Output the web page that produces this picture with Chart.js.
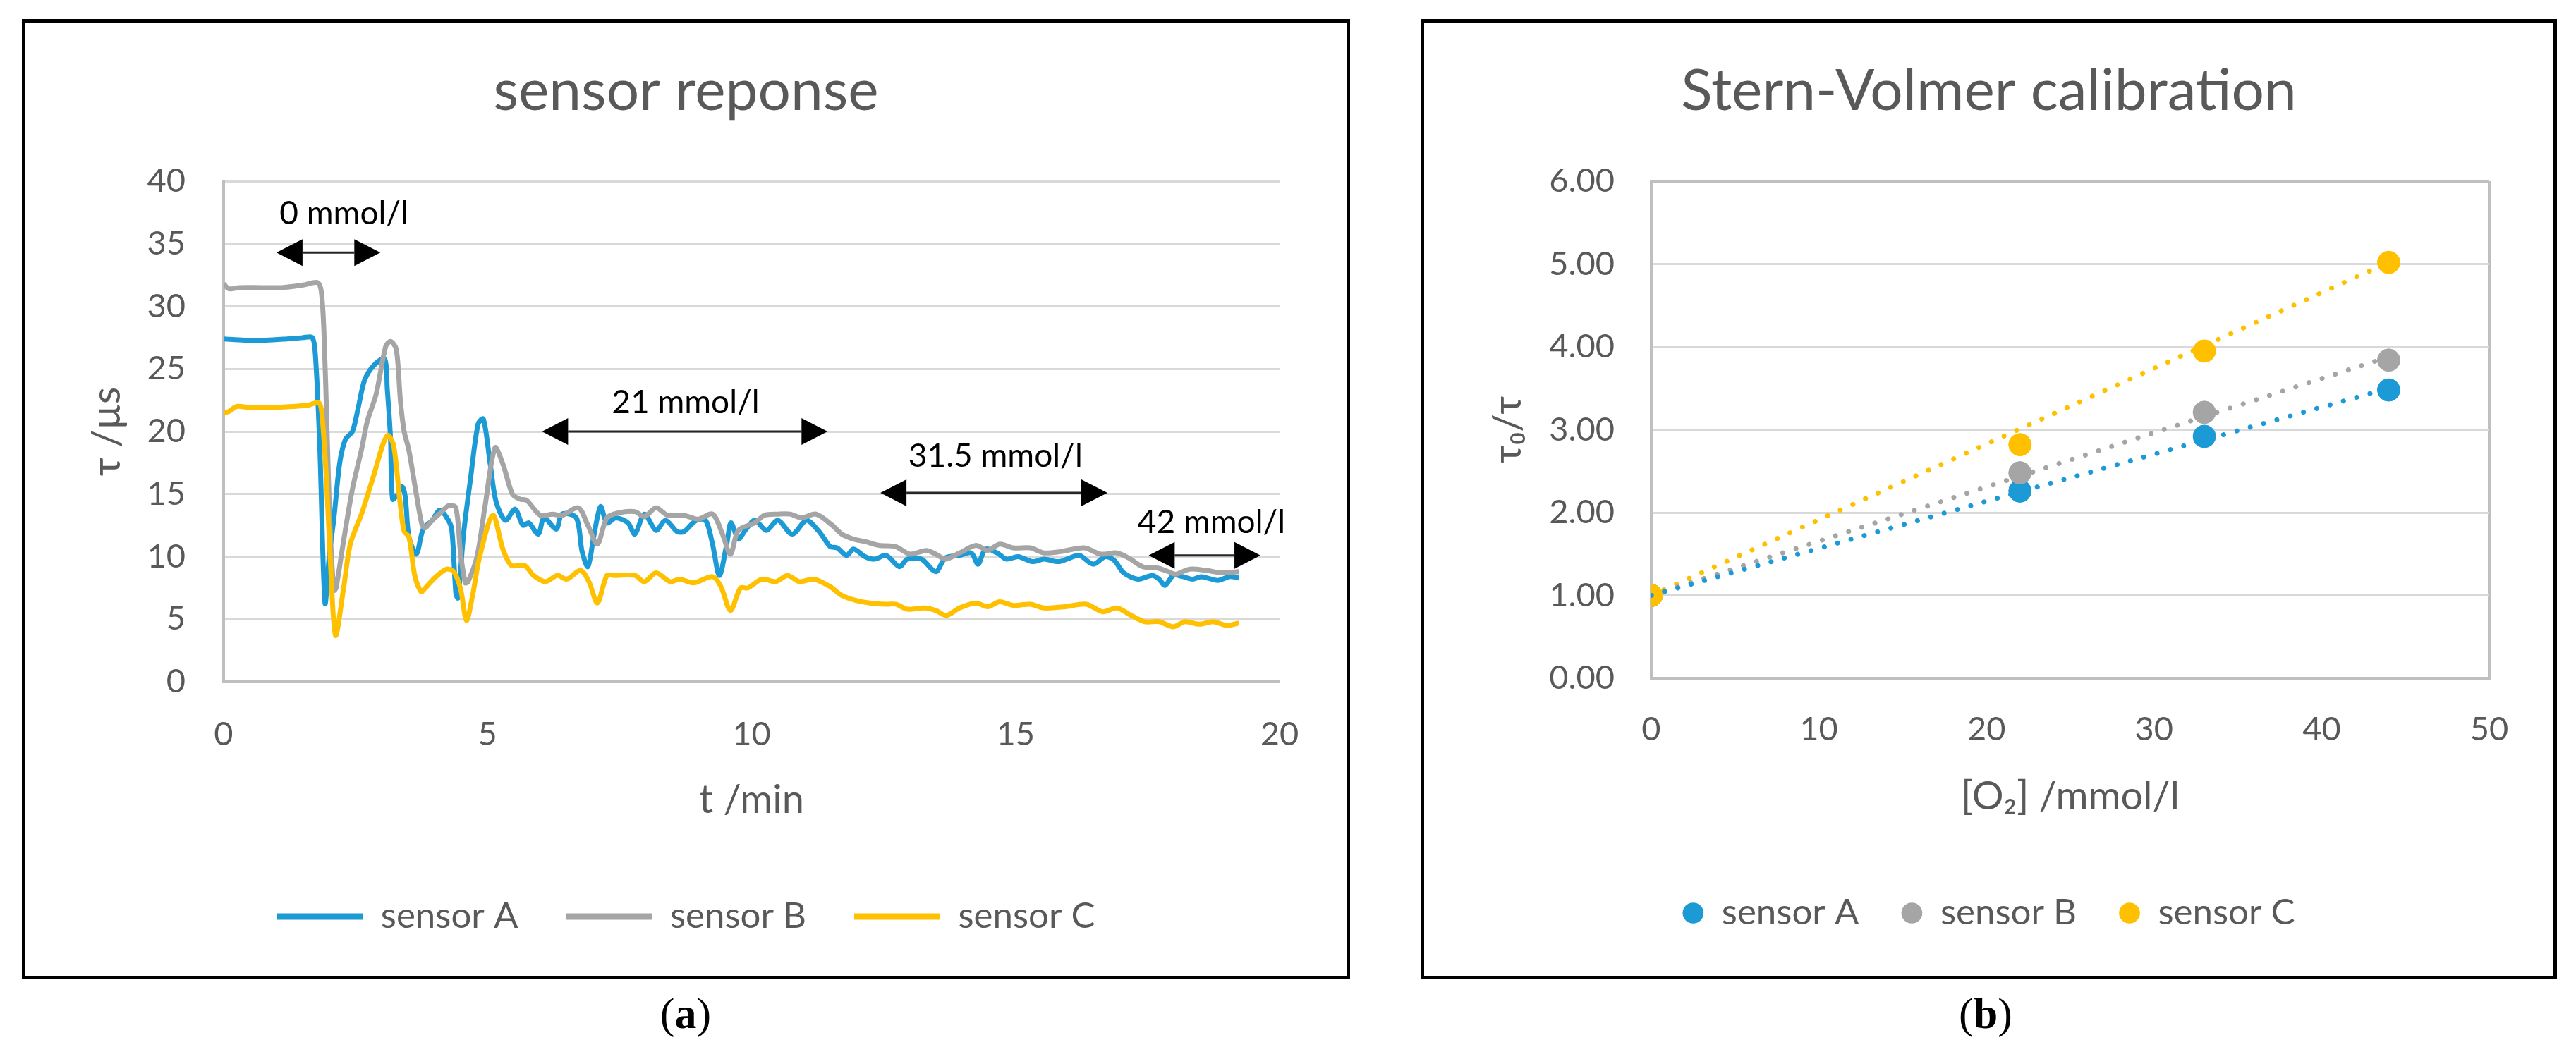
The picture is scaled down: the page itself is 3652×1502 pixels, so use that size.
<!DOCTYPE html>
<html>
<head>
<meta charset="utf-8">
<script src="https://cdn.jsdelivr.net/npm/chart.js@4.4.1/dist/chart.umd.min.js"></script>
<style>
  body { margin: 0; width: 3652px; height: 1502px; background: #fff; position: relative; overflow: hidden; }
  .frame { position: absolute; border: 5px solid #000; background: #fff; }
  .frame canvas { display: block; }
  .caption { position: absolute; width: 200px; text-align: center; font-family: "Liberation Serif", "DejaVu Serif", serif; font-size: 62px; line-height: 70px; color: #000; }
</style>
</head>
<body>
<div class="frame" id="frameA" style="left:31px; top:27px; width:1873px; height:1352px;">
  <canvas id="responseChart"></canvas>
</div>
<div class="frame" id="frameB" style="left:2014px; top:27px; width:1601px; height:1352px;">
  <canvas id="svChart"></canvas>
</div>
<div class="caption" style="left:872px; top:1402px;">(<b>a</b>)</div>
<div class="caption" style="left:2715px; top:1402px;">(<b>b</b>)</div>

<script>
// ---- data ----
// sensor response, [t /min, tau /us]
var sensorA = [[0,27.4],[0.4,27.3],[0.8,27.3],[1.2,27.4],[1.5,27.5],[1.68,27.5],[1.74,26],[1.82,19],[1.92,6.3],
  [2.0,10],[2.09,13.1],[2.2,17.5],[2.31,19.4],[2.44,20.0],[2.55,21.9],[2.67,24.1],[2.85,25.3],[3.05,25.8],
  [3.1,23.4],[3.16,19.6],[3.2,14.6],[3.3,15.0],[3.38,15.6],[3.44,14.8],[3.51,11.6],[3.65,10.2],[3.78,12.2],
  [3.95,12.9],[4.09,13.7],[4.23,13.1],[4.32,12.2],[4.4,7.0],[4.44,6.7],[4.55,12],[4.67,16],[4.82,20.6],[4.92,21.0],
  [5.05,17.4],[5.16,14.4],[5.34,12.9],[5.52,13.8],[5.67,12.5],[5.78,12.7],[5.96,11.8],[6.07,13.1],[6.3,12.2],
  [6.41,13.4],[6.68,13.1],[6.79,10.4],[6.9,9.2],[7.01,11.6],[7.14,14.0],[7.26,12.7],[7.43,13.1],[7.66,12.7],
  [7.79,11.8],[7.97,13.4],[8.19,12.1],[8.37,12.9],[8.59,12.0],[8.72,12.0],[8.95,12.9],[9.13,12.9],[9.26,11.0],
  [9.39,8.5],[9.53,11.0],[9.61,12.7],[9.75,11.4],[9.88,12.1],[10.06,12.9],[10.28,12.1],[10.5,12.9],[10.77,11.8],
  [11.04,12.9],[11.26,12.1],[11.35,11.6],[11.49,10.8],[11.62,10.7],[11.8,10.1],[11.93,10.6],[12.15,10.0],
  [12.33,9.8],[12.55,10.1],[12.8,9.2],[12.95,9.8],[13.22,9.8],[13.49,8.8],[13.67,9.9],[13.94,10.1],[14.16,10.3],
  [14.29,9.4],[14.43,10.6],[14.65,10.3],[14.83,9.8],[15.05,10.0],[15.32,9.6],[15.54,9.8],[15.81,9.6],[16.03,9.9],
  [16.21,10.1],[16.47,9.4],[16.7,10.0],[16.87,9.7],[17.05,8.7],[17.32,8.2],[17.59,8.5],[17.72,8.2],[17.83,7.7],
  [17.99,8.5],[18.17,8.4],[18.35,8.2],[18.52,8.4],[18.83,8.1],[19.05,8.4],[19.23,8.3]];

var sensorB = [[0,31.8],[0.1,31.4],[0.3,31.5],[0.7,31.5],[1.1,31.5],[1.5,31.7],[1.78,31.9],[1.85,31.2],[1.9,28],
  [1.96,20],[2.02,12],[2.09,7.3],[2.13,7.5],[2.27,11.2],[2.44,15.4],[2.62,18.7],[2.72,20.8],[2.89,23.0],[3.07,26.8],
  [3.16,27.2],[3.27,26.6],[3.35,22.4],[3.42,20.0],[3.51,18.5],[3.65,15.0],[3.76,12.5],[3.82,12.3],[3.95,12.9],
  [4.11,13.5],[4.27,14.1],[4.4,13.9],[4.49,10.2],[4.58,7.9],[4.63,8.0],[4.8,10.0],[4.95,14.0],[5.14,18.7],
  [5.29,17.4],[5.47,15.0],[5.61,14.6],[5.74,14.5],[6.0,13.3],[6.23,13.4],[6.41,13.3],[6.72,13.9],[6.9,12.5],
  [7.08,11.0],[7.26,13.1],[7.48,13.5],[7.79,13.6],[7.97,13.2],[8.19,13.9],[8.41,13.3],[8.72,13.3],[8.99,13.0],
  [9.26,13.4],[9.44,11.9],[9.6,10.2],[9.75,12.1],[10.06,12.7],[10.24,13.3],[10.5,13.4],[10.73,13.4],[10.95,13.1],
  [11.22,13.4],[11.53,12.5],[11.71,11.8],[11.93,11.4],[12.15,11.2],[12.42,10.9],[12.73,10.8],[13.0,10.2],
  [13.31,10.5],[13.49,10.2],[13.67,9.8],[13.94,10.3],[14.25,10.9],[14.47,10.5],[14.7,11.0],[14.96,10.7],
  [15.28,10.7],[15.54,10.3],[15.85,10.4],[16.3,10.7],[16.61,10.2],[16.92,10.3],[17.14,9.9],[17.41,9.2],
  [17.68,9.1],[17.9,8.8],[18.03,8.6],[18.3,9.0],[18.61,8.9],[18.92,8.7],[19.23,8.8]];

var sensorC = [[0,21.5],[0.1,21.6],[0.25,22.0],[0.5,21.9],[0.9,21.9],[1.3,22.0],[1.6,22.1],[1.8,22.3],[1.86,21.5],
  [1.95,16],[2.03,9],[2.12,3.7],[2.27,7.4],[2.4,11.0],[2.62,13.5],[2.85,16.6],[3.02,19.0],[3.11,19.7],[3.22,18.9],
  [3.34,14.4],[3.42,12.0],[3.51,11.6],[3.62,8.5],[3.74,7.2],[3.8,7.4],[4.0,8.3],[4.22,9.0],[4.36,8.8],[4.49,7.4],
  [4.6,4.9],[4.72,7.0],[4.85,10.0],[5.1,13.3],[5.29,10.6],[5.45,9.3],[5.7,9.3],[5.87,8.5],[6.1,8.0],[6.32,8.5],
  [6.5,8.2],[6.76,8.9],[6.92,8.0],[7.08,6.3],[7.26,8.5],[7.4,8.5],[7.79,8.5],[7.97,8.0],[8.19,8.7],[8.46,8.0],
  [8.64,8.2],[8.9,7.9],[9.26,8.4],[9.42,7.6],[9.6,5.7],[9.79,7.5],[9.93,7.5],[10.2,8.2],[10.46,8.0],[10.68,8.5],
  [10.91,8.0],[11.18,8.2],[11.49,7.6],[11.71,6.9],[11.98,6.5],[12.24,6.3],[12.55,6.2],[12.73,6.2],[12.95,5.8],
  [13.27,5.9],[13.49,5.7],[13.69,5.3],[13.94,5.9],[14.25,6.3],[14.47,6.0],[14.7,6.4],[14.96,6.1],[15.28,6.2],
  [15.54,5.9],[15.94,6.0],[16.34,6.2],[16.65,5.6],[16.92,5.9],[17.19,5.3],[17.45,4.8],[17.72,4.8],[17.99,4.4],
  [18.21,4.8],[18.48,4.6],[18.74,4.8],[19.01,4.5],[19.23,4.7]];

// concentration steps marked with arrows (t /min, tau level)
var stepLabels = ['0 mmol/l', '21 mmol/l', '31.5 mmol/l', '42 mmol/l'];
var stepFrom = [1.0, 6.03, 12.44, 17.52];
var stepTo = [2.97, 11.44, 16.74, 19.64];
var stepLevel = [34.3, 20.0, 15.1, 10.1];
var stepLabelT = [2.28, 8.75, 14.62, 18.71];
var stepLabelLevel = [37.4, 22.3, 18.0, 12.7];

// Stern-Volmer calibration
var o2Conc = [0, 22, 33, 44];
var ratioA = [1.00, 2.26, 2.92, 3.48];
var ratioB = [1.00, 2.48, 3.21, 3.84];
var ratioC = [1.00, 2.82, 3.95, 5.02];
var trendConc = [0, 44];
var trendA = [1.00, 3.50];
var trendB = [1.00, 3.88];
var trendC = [1.00, 5.02];

var sensorNames = ['sensor A', 'sensor B', 'sensor C'];
var colors = ['#1C9AD6', '#A5A5A5', '#FFC000'];

// ---- common look ----
Chart.defaults.font.family = 'Lato, "Open Sans", sans-serif';
Chart.defaults.color = '#595959';
Chart.defaults.animation = false;

function toPoints(pairs) {
  return pairs.map(function(p) { return {x: p[0], y: p[1]}; });
}
function zipPoints(xs, ys) {
  return xs.map(function(x, i) { return {x: x, y: ys[i]}; });
}

var arrowPlugin = {
  id: 'stepArrows',
  afterDatasetsDraw: function(chart) {
    var ctx = chart.ctx;
    var xs = chart.scales.x, ys = chart.scales.y;
    var head = 37, half = 19;
    ctx.save();
    for (var i = 0; i < stepLabels.length; i++) {
      var x1 = xs.getPixelForValue(stepFrom[i]);
      var x2 = xs.getPixelForValue(stepTo[i]);
      var yy = ys.getPixelForValue(stepLevel[i]);
      ctx.strokeStyle = '#262626';
      ctx.lineWidth = 3;
      ctx.beginPath();
      ctx.moveTo(x1 + head, yy);
      ctx.lineTo(x2 - head, yy);
      ctx.stroke();
      ctx.fillStyle = '#000';
      ctx.beginPath();
      ctx.moveTo(x1, yy); ctx.lineTo(x1 + head, yy - half); ctx.lineTo(x1 + head, yy + half);
      ctx.closePath(); ctx.fill();
      ctx.beginPath();
      ctx.moveTo(x2, yy); ctx.lineTo(x2 - head, yy - half); ctx.lineTo(x2 - head, yy + half);
      ctx.closePath(); ctx.fill();
      ctx.font = '46px Lato, sans-serif';
      ctx.textAlign = 'center';
      ctx.textBaseline = 'middle';
      ctx.fillStyle = '#000';
      ctx.fillText(stepLabels[i], xs.getPixelForValue(stepLabelT[i]), ys.getPixelForValue(stepLabelLevel[i]));
    }
    ctx.restore();
  }
};

// ---- (a) sensor response ----
var responseCtx = document.getElementById('responseChart').getContext('2d');
var responseChart = new Chart(responseCtx, {
  type: 'line',
  data: {
    datasets: [sensorA, sensorB, sensorC].map(function(s, i) {
      return {
        label: sensorNames[i],
        data: toPoints(s),
        borderColor: colors[i],
        backgroundColor: colors[i],
        borderWidth: 7,
        pointRadius: 0,
        tension: 0.3,
        fill: false,
        order: 3 - i
      };
    })
  },
  options: {
    responsive: true,
    maintainAspectRatio: false,
    devicePixelRatio: 1,
    // symmetric side padding keeps title and legend centred on the frame
    layout: { padding: { left: 95, right: 95, top: 0, bottom: 48.5 } },
    scales: {
      x: {
        type: 'linear',
        min: 0,
        max: 20,
        ticks: { stepSize: 5, padding: 47, font: { size: 47 } },
        grid: { display: false, drawTicks: false },
        border: { display: true, color: '#BFBFBF', width: 4 },
        title: { display: true, text: 't /min', font: { size: 56 }, padding: { top: 0, bottom: 38 } },
        afterFit: function(scale) { scale.height = 239.5; }
      },
      y: {
        min: 0,
        max: 40,
        ticks: { stepSize: 5, padding: 54, font: { size: 47 } },
        grid: { color: '#D9D9D9', lineWidth: 3, drawTicks: false },
        border: { display: true, color: '#BFBFBF', width: 4 },
        title: { display: true, text: 'τ /µs', font: { size: 56 }, padding: { top: -12.6, bottom: 0 } },
        afterFit: function(scale) { scale.width = 186; }
      }
    },
    plugins: {
      title: {
        display: true,
        text: 'sensor reponse',
        color: '#595959',
        font: { size: 82, weight: 'normal' },
        padding: { top: 48, bottom: 78.6 }
      },
      legend: {
        display: true,
        position: 'bottom',
        labels: {
          boxWidth: 122,
          boxHeight: 9,
          padding: 68,
          font: { size: 51 },
          generateLabels: function(chart) {
            return chart.data.datasets.map(function(ds, i) {
              return { text: ds.label, fillStyle: ds.borderColor, strokeStyle: ds.borderColor,
                       lineWidth: 0, hidden: false, datasetIndex: i, fontColor: '#595959' };
            });
          }
        }
      },
      tooltip: { enabled: false }
    }
  },
  plugins: [arrowPlugin]
});

// ---- (b) Stern-Volmer calibration ----
var svDatasets = [];
[ratioA, ratioB, ratioC].forEach(function(r, i) {
  svDatasets.push({
    label: sensorNames[i],
    data: zipPoints(o2Conc, r),
    showLine: false,
    backgroundColor: colors[i],
    borderColor: colors[i],
    pointRadius: 16,
    pointBorderWidth: 1,
    pointStyle: 'circle',
    order: 3 - i
  });
});
[trendA, trendB, trendC].forEach(function(t, i) {
  svDatasets.push({
    label: sensorNames[i] + ' trend',
    data: zipPoints(trendConc, t),
    showLine: true,
    borderColor: colors[i],
    borderWidth: 7,
    borderDash: [0.1, 19.5],
    borderCapStyle: 'round',
    pointRadius: 0,
    fill: false,
    order: 0
  });
});

var svCtx = document.getElementById('svChart').getContext('2d');
var svChart = new Chart(svCtx, {
  type: 'scatter',
  data: { datasets: svDatasets },
  options: {
    responsive: true,
    maintainAspectRatio: false,
    devicePixelRatio: 1,
    layout: { padding: { left: 91, right: 91, top: 0, bottom: 53.5 } },
    scales: {
      x: {
        type: 'linear',
        min: 0,
        max: 50,
        ticks: { stepSize: 10, padding: 45, font: { size: 47 } },
        grid: {
          drawTicks: false,
          lineWidth: 4,
          color: function(c) { return (c.tick && (c.tick.value === 0 || c.tick.value === 50)) ? '#BFBFBF' : 'rgba(0,0,0,0)'; }
        },
        border: { display: true, color: '#BFBFBF', width: 4 },
        title: { display: true, text: '[O₂] /mmol/l', font: { size: 56 }, padding: { top: 0, bottom: 46 } },
        afterFit: function(scale) { scale.height = 247.5; }
      },
      y: {
        min: 0,
        max: 6,
        ticks: { stepSize: 1, padding: 52, font: { size: 47 },
                 callback: function(v) { return v.toFixed(2); } },
        grid: {
          drawTicks: false,
          lineWidth: function(c) { return (c.tick && (c.tick.value === 0 || c.tick.value === 6)) ? 4 : 3; },
          color: function(c) { return (c.tick && (c.tick.value === 0 || c.tick.value === 6)) ? '#BFBFBF' : '#D9D9D9'; }
        },
        border: { display: true, color: '#BFBFBF', width: 4 },
        title: { display: true, text: 'τ₀/τ', font: { size: 56 }, padding: { top: -5.6, bottom: 0 } },
        afterFit: function(scale) { scale.width = 231; }
      }
    },
    plugins: {
      title: {
        display: true,
        text: 'Stern-Volmer calibration',
        color: '#595959',
        font: { size: 82, weight: 'normal' },
        padding: { top: 48, bottom: 78.6 }
      },
      legend: {
        display: true,
        position: 'bottom',
        labels: {
          usePointStyle: true,
          boxWidth: 30,
          boxHeight: 21,
          padding: 60,
          font: { size: 51 },
          filter: function(item) { return item.datasetIndex < 3; },
          generateLabels: function(chart) {
            return chart.data.datasets.map(function(ds, i) {
              return { text: ds.label, fillStyle: ds.backgroundColor || ds.borderColor, strokeStyle: ds.borderColor,
                       lineWidth: 0, pointStyle: 'circle', hidden: false, datasetIndex: i, fontColor: '#595959' };
            });
          }
        }
      },
      tooltip: { enabled: false }
    }
  }
});
</script>
</body>
</html>
